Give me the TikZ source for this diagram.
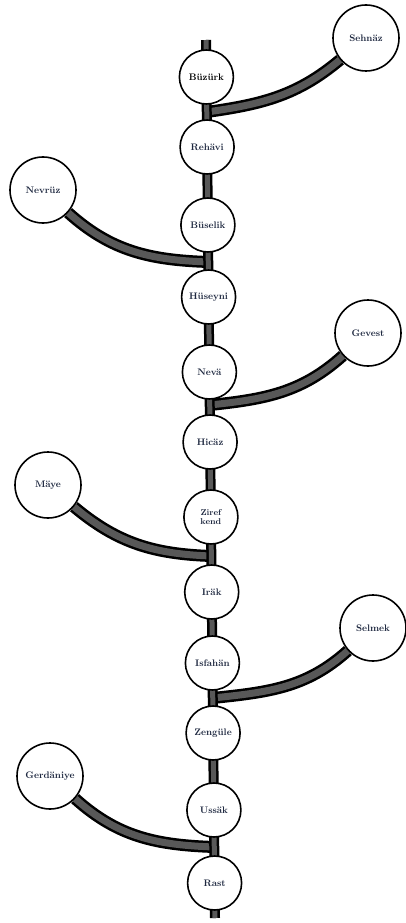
\documentclass[tikz,border=0pt]{standalone}
\usetikzlibrary{backgrounds}
\definecolor{ink}{HTML}{1E2840}
\definecolor{barfill}{HTML}{585858}
\tikzset{
  x=1pt, y=-1pt,
  labelfont/.style={font=\fontsize{9.5}{9.5}\selectfont\bfseries},
  maincirc/.style={circle, draw=black, line width=1.6pt, fill=white, minimum size=54pt, inner sep=0pt, align=center, labelfont, text=ink},
  sidecirc/.style={circle, draw=black, line width=1.6pt, fill=white, minimum size=66pt, inner sep=0pt, align=center, labelfont, text=ink},
  barout/.style={line width=10pt, draw=black},
  barin/.style={line width=5pt, draw=barfill},
  branchout/.style={line width=12pt, draw=black},
  branchin/.style={line width=7pt, draw=barfill},
}
\begin{document}
\begin{tikzpicture}
\useasboundingbox (0,0) rectangle (405,923);
% main circles
\node[maincirc, text=black] (buzurk) at (206.4,77) {B\"uz\"urk};
\node[maincirc] (rehavi) at (207.1,147) {Reh\"avi};
\node[maincirc] (buselik) at (207.9,225) {B\"uselik};
\node[maincirc] (huseyni) at (208.6,297) {H\"useyni};
\node[maincirc] (neva) at (209.4,372) {Nev\"a};
\node[maincirc] (hicaz) at (210.1,442) {Hic\"az};
\node[maincirc, font=\fontsize{8.5}{9}\selectfont\bfseries] (ziref) at (210.9,517) {Ziref\\kend};
\node[maincirc] (irak) at (211.7,592) {Ir\"ak};
\node[maincirc] (isfahan) at (212.4,663) {Isfah\"an};
\node[maincirc] (zengule) at (213.1,733) {Zeng\"ule};
\node[maincirc] (ussak) at (213.9,810) {Uss\"ak};
\node[maincirc] (rast) at (214.6,883) {Rast};
% side circles
\node[sidecirc] (sehnaz) at (366,38) {Sehn\"az};
\node[sidecirc] (nevruz) at (43,190) {Nevr\"uz};
\node[sidecirc] (gevest) at (368,333) {Gevest};
\node[sidecirc] (maye) at (48,485) {M\"aye};
\node[sidecirc] (selmek) at (373,628) {Selmek};
\node[sidecirc] (gerdaniye) at (50,776) {Gerd\"aniye};
% junctions and ends
\coordinate (top) at (206,40);
\coordinate (bot) at (215,918);
\coordinate (j1) at (206.8,112);
\coordinate (j2) at (208.2,262);
\coordinate (j3) at (209.8,405);
\coordinate (j4) at (211.3,556);
\coordinate (j5) at (212.7,698);
\coordinate (j6) at (214.3,847);
\begin{pgfonlayer}{background}
  \foreach \s in {branchout,branchin}{
    \path[\s] (j1) to[out=8,in=220] (sehnaz);
    \path[\s] (nevruz) to[out=-42,in=178] (j2);
    \path[\s] (j3) to[out=6,in=222] (gevest);
    \path[\s] (maye) to[out=-40,in=178] (j4);
    \path[\s] (j5) to[out=6,in=222] (selmek);
    \path[\s] (gerdaniye) to[out=-42,in=178] (j6);
  }
  \path[barout] (top) -- (buzurk.center) -- (rehavi.center) -- (buselik.center) -- (huseyni.center) -- (neva.center) -- (hicaz.center) -- (ziref.center) -- (irak.center) -- (isfahan.center) -- (zengule.center) -- (ussak.center) -- (rast.center) -- (bot);
  \path[barin] (top) -- (buzurk.center) -- (rehavi.center) -- (buselik.center) -- (huseyni.center) -- (neva.center) -- (hicaz.center) -- (ziref.center) -- (irak.center) -- (isfahan.center) -- (zengule.center) -- (ussak.center) -- (rast.center) -- (bot);
\end{pgfonlayer}
\end{tikzpicture}
\end{document}
